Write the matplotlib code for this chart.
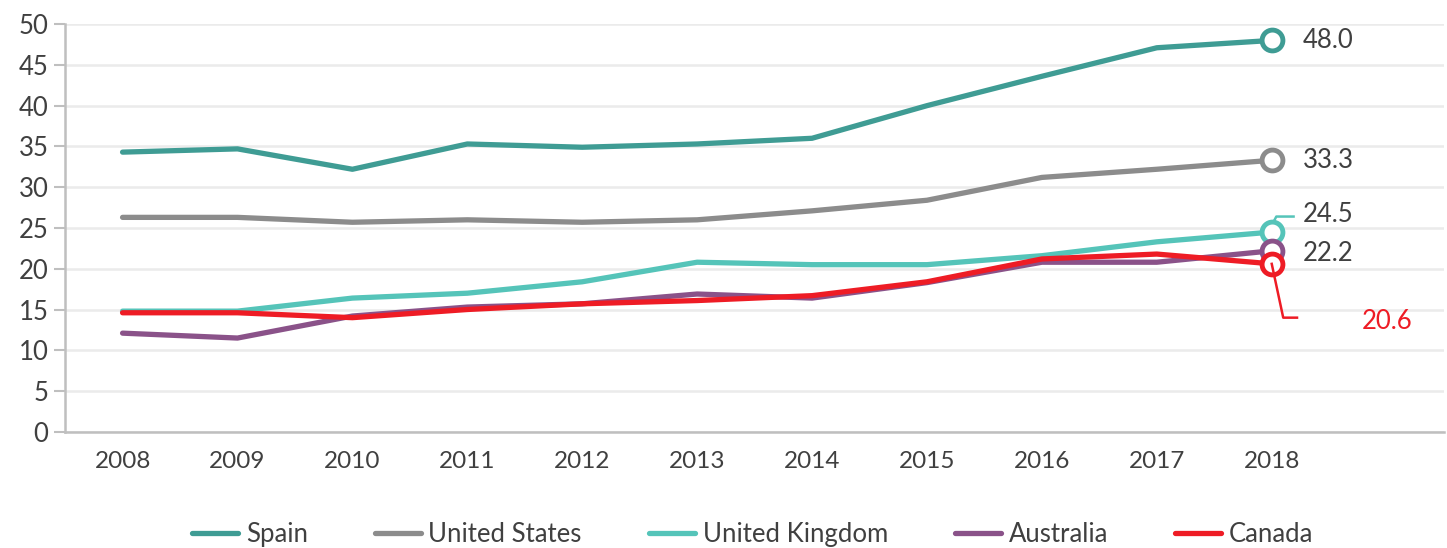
import matplotlib.pyplot as plt
import numpy as np

years = ['2008', '2009', '2010', '2011', '2012', '2013', '2014', '2015', '2016', '2017', '2018']
spain = [34.3, 34.7, 32.2, 35.3, 34.9, 35.3, 36.0, 40.0, 43.6, 47.1, 48.0]
united_states = [26.3, 26.3, 25.7, 26.0, 25.7, 26.0, 27.1, 28.4, 31.2, 32.2, 33.3]
united_kingdom = [14.8, 14.8, 16.4, 17.0, 18.4, 20.8, 20.5, 20.5, 21.6, 23.3, 24.5]
australia = [12.1, 11.5, 14.2, 15.3, 15.7, 16.9, 16.4, 18.3, 20.8, 20.8, 22.2]
canada = [14.6, 14.6, 14.0, 15.0, 15.7, 16.1, 16.7, 18.4, 21.2, 21.8, 20.6]

series = [
    ('Spain', spain, '#3F9C94'),
    ('United States', united_states, '#8C8C8C'),
    ('United Kingdom', united_kingdom, '#55C4B9'),
    ('Australia', australia, '#8A5289'),
    ('Canada', canada, '#EE1C25'),
]

plt.rcParams['font.family'] = ['Lato', 'DejaVu Sans']

fig = plt.figure(figsize=(14.47, 5.48), dpi=100)
ax = fig.add_axes([0.045, 0.212, 0.953, 0.744])

x = np.arange(len(years))
for name, vals, col in series:
    ax.plot(x, vals, color=col, lw=3.8, label=name, solid_capstyle='round', zorder=3)
    ax.plot(x[-1], vals[-1], 'o', ms=15, mfc='white', mec=col, mew=3.5, zorder=4)

txt = '#404040'
fs = 18.5
ax.text(10.27, spain[-1], '48.0', fontsize=fs, color=txt, va='center')
ax.text(10.27, united_states[-1], '33.3', fontsize=fs, color=txt, va='center')
ax.text(10.27, 26.7, '24.5', fontsize=fs, color=txt, va='center')
ax.text(10.27, 21.9, '22.2', fontsize=fs, color=txt, va='center')
ax.text(10.78, 13.5, '20.6', fontsize=fs, color='#EE1C25', va='center')

# leader lines
ax.plot([10.01, 10.04, 10.19], [25.6, 26.4, 26.4], color='#55C4B9', lw=1.8, zorder=2)
ax.plot([10.0, 10.1, 10.22], [20.6, 14.0, 14.0], color='#EE1C25', lw=1.8, zorder=5)

ax.set_xlim(-0.5, 11.5)
ax.set_ylim(0, 50)
ax.set_yticks(range(0, 51, 5))
ax.set_xticks(x)
ax.set_xticklabels(years)
ax.tick_params(axis='y', labelsize=fs, labelcolor=txt, color='#BFBFBF', length=8, width=1.5, pad=4)
ax.tick_params(axis='x', labelsize=17.5, labelcolor=txt, length=0, pad=14)
ax.grid(axis='y', color='#EBEBEB', lw=1.8)
ax.set_axisbelow(True)
for s in ['top', 'right']:
    ax.spines[s].set_visible(False)
for s in ['left', 'bottom']:
    ax.spines[s].set_color('#BFBFBF')
    ax.spines[s].set_linewidth(1.8)

fig.legend(loc='lower center', ncol=5, frameon=False, fontsize=fs, handlelength=1.8,
           handletextpad=0.3, columnspacing=2.6, bbox_to_anchor=(0.52, -0.04), labelcolor=txt)

fig.savefig('out.png', dpi=100)
